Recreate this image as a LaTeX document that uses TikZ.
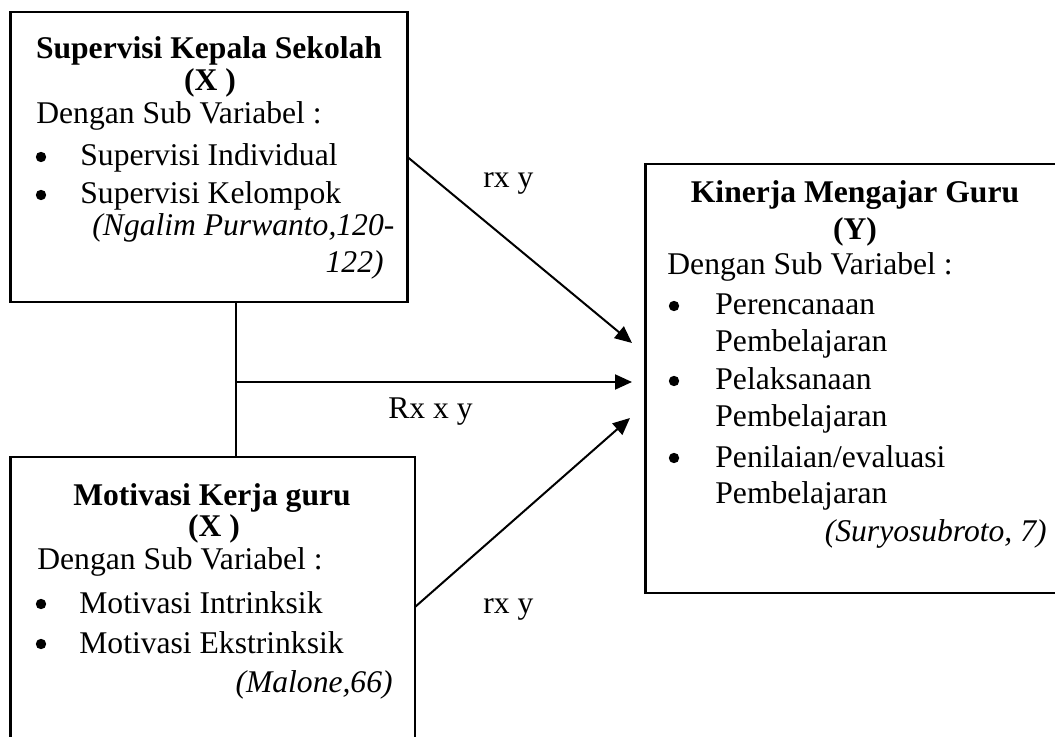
\documentclass[tikz,border=0pt]{standalone}
\usepackage{fontspec}
\setmainfont{Liberation Serif}
\usetikzlibrary{arrows.meta}
\begin{document}
\begin{tikzpicture}[x=0.5pt,y=-0.5pt,
  box/.style={draw, line width=1.2pt, anchor=north west, inner sep=0pt, outer sep=0pt},
  txt/.style={font=\fontsize{15.8}{19}\selectfont, anchor=base west, inner sep=0pt},
  txtr/.style={font=\fontsize{15.8}{19}\selectfont\itshape, anchor=base east, inner sep=0pt},
  cite/.style={font=\fontsize{15.8}{19}\selectfont\itshape, anchor=base west, inner sep=0pt},
  ttl/.style={font=\fontsize{15.8}{19}\selectfont\bfseries, anchor=base, inner sep=0pt},
  bul/.style={circle, fill=black, inner sep=0pt, minimum size=5.2pt},
  lbl/.style={font=\fontsize{15.8}{19}\selectfont, anchor=base west, inner sep=0pt},
  arr/.style={-{Triangle[length=8.5pt,width=7.5pt]}, line width=1pt},
  link/.style={line width=1pt}
]
\clip (0,0) rectangle (1055,737);
\fill[white] (0,0) rectangle (1055,737);

% boxes
\node[box, minimum width=198.5pt, minimum height=145pt] (b1) at (10.5,12) {};
\node[box, minimum width=202.25pt, minimum height=150pt] (b2) at (10.5,457) {};
\node[box, minimum width=215pt, minimum height=214.5pt] (b3) at (645.5,164) {};

% box 1 text
\node[ttl] (t1a) at (209,59) {Supervisi Kepala Sekolah};
\node[ttl] (t1b) at (210,91) {(X )};
\node[txt] (t1c) at (36,124) {Dengan Sub Variabel :};
\node[bul] (t1d) at (41,157) {};
\node[txt] (t1e) at (80,166) {Supervisi Individual};
\node[bul] (t1f) at (41,195) {};
\node[txt] (t1g) at (80,204) {Supervisi Kelompok};
\node[cite] (t1h) at (92,236) {(Ngalim Purwanto,120-};
\node[txtr] (t1i) at (384,273) {122)};

% box 2 text
\node[ttl] (t2a) at (212,506) {Motivasi Kerja guru};
\node[ttl] (t2b) at (214,537) {(X )};
\node[txt] (t2c) at (37,569) {Dengan Sub Variabel :};
\node[bul] (t2d) at (41,604) {};
\node[txt] (t2e) at (79,613) {Motivasi Intrinksik};
\node[bul] (t2f) at (41,644) {};
\node[txt] (t2g) at (79,653) {Motivasi Ekstrinksik};
\node[txtr] (t2h) at (393,692) {(Malone,66)};

% box 3 text
\node[ttl] (t3a) at (855,203) {Kinerja Mengajar Guru};
\node[ttl] (t3b) at (855,240) {(Y)};
\node[txt] (t3c) at (667,275) {Dengan Sub Variabel :};
\node[bul] (t3d) at (674,306) {};
\node[txt] (t3e) at (715,315) {Perencanaan};
\node[txt] (t3f) at (715,352) {Pembelajaran};
\node[bul] (t3g) at (674,381) {};
\node[txt] (t3h) at (715,390) {Pelaksanaan};
\node[txt] (t3i) at (715,427) {Pembelajaran};
\node[bul] (t3j) at (674,458) {};
\node[txt] (t3k) at (715,467) {Penilaian/evaluasi};
\node[txt] (t3l) at (715,503) {Pembelajaran};
\node[txtr] (t3m) at (1047,541) {(Suryosubroto, 7)};

% connectors
\coordinate (j) at (236,382);
\coordinate (p1) at (632,343);
\coordinate (p2) at (632,382);
\coordinate (p3) at (630,418);
\draw[link] (j |- b1.south) -- (j |- b2.north);
\draw[arr] (b1.east) -- (p1);
\draw[arr] (j) -- (p2);
\draw[arr] (b2.east) -- (p3);

% labels
\node[lbl] (l1) at (483,188) {rx y};
\node[lbl] (l2) at (388,419) {Rx x y};
\node[lbl] (l3) at (483,613) {rx y};
\end{tikzpicture}
\end{document}
